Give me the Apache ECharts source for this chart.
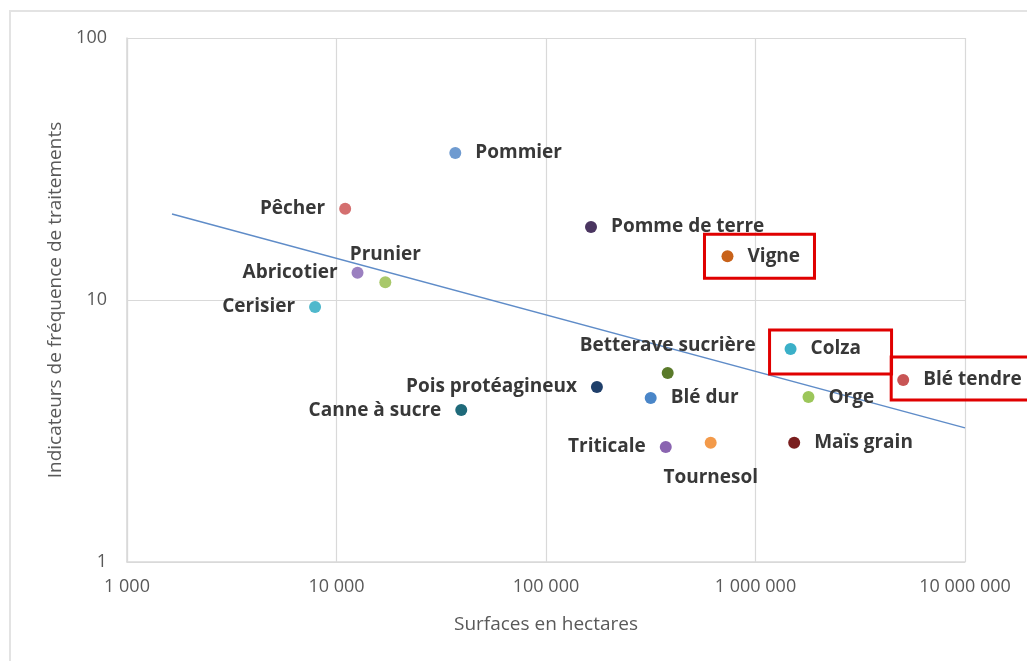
<!DOCTYPE html>
<html>
<head>
<meta charset="utf-8">
<script src="https://cdn.jsdelivr.net/npm/echarts@6/dist/echarts.min.js"></script>
<style>
  html, body { margin: 0; padding: 0; background: #ffffff; }
  #chart { width: 1027px; height: 661px; }
</style>
</head>
<body>
<div id="chart"></div>
<script>
// Cultures : surface cultivée (ha) et indicateur de fréquence de traitements (IFT)
const crops = [
  'Pommier', 'Pêcher', 'Abricotier', 'Prunier', 'Cerisier',
  'Pomme de terre', 'Vigne', 'Colza', 'Blé tendre', 'Betterave sucrière',
  'Pois protéagineux', 'Blé dur', 'Orge', 'Canne à sucre', 'Triticale',
  'Tournesol', 'Maïs grain'
];
const surfaces = [
  36900, 11000, 12600, 17100, 7900,
  164000, 735000, 1470000, 5070000, 381000,
  175000, 316000, 1790000, 39400, 373000,
  611000, 1530000
];
const ift = [
  36.4, 22.3, 12.7, 11.7, 9.4,
  19.0, 14.7, 6.5, 4.95, 5.27,
  4.66, 4.23, 4.26, 3.80, 2.75,
  2.85, 2.85
];
const colors = [
  '#6f9bd0', '#d46f6f', '#9b80c0', '#a8c86a', '#4fb8cc',
  '#4a3560', '#c8621a', '#3bb0c8', '#c85555', '#5a7a2a',
  '#1f3f6a', '#4a86c8', '#9cc65a', '#1f6a7a', '#8a64b0',
  '#f39a4a', '#7a1e1e'
];

// Courbe de tendance (puissance) : extrémités
const trendX = [1640, 10000000];
const trendY = [21.3, 3.25];

// Graduations des axes
const xTicks = [1000, 10000, 100000, 1000000, 10000000];
const yTicks = [1, 10, 100];

// Cultures encadrées en rouge
const highlighted = ['Vigne', 'Colza', 'Blé tendre'];

// Placement des étiquettes par culture
const labelSide = {
  'Pommier': 'right', 'Pêcher': 'left', 'Abricotier': 'left', 'Prunier': 'top',
  'Cerisier': 'left', 'Pomme de terre': 'right', 'Vigne': 'right', 'Colza': 'right',
  'Blé tendre': 'right', 'Betterave sucrière': 'top', 'Pois protéagineux': 'left',
  'Blé dur': 'right', 'Orge': 'right', 'Canne à sucre': 'left', 'Triticale': 'left',
  'Tournesol': 'bottom', 'Maïs grain': 'right'
};
const labelGap = { top: 12, bottom: 19, left: 14, right: 14 };

const fmt = v => String(Math.round(v)).replace(/\B(?=(\d{3})+(?!\d))/g, ' ');

const chart = echarts.init(document.getElementById('chart'), null, { renderer: 'canvas' });

const points = crops.map((name, i) => {
  const side = labelSide[name];
  const vertical = side === 'top' || side === 'bottom';
  return {
    name: name,
    value: [surfaces[i], ift[i]],
    itemStyle: { color: colors[i], opacity: 1 },
    label: {
      show: true,
      position: side,
      distance: labelGap[side],
      offset: vertical ? [0, 0] : [0, 2],
      formatter: '{b}'
    }
  };
});

const axisLabelStyle = { color: '#595959', fontFamily: 'Open Sans', fontSize: 18 };
const axisNameStyle = { color: '#595959', fontFamily: 'Open Sans', fontSize: 19 };

chart.setOption({
  animation: false,
  backgroundColor: '#ffffff',
  grid: { left: 127, right: 62, top: 38, bottom: 99, containLabel: false },
  xAxis: {
    type: 'log', logBase: 10, min: xTicks[0], max: xTicks[xTicks.length - 1],
    name: 'Surfaces en hectares', nameLocation: 'middle', nameGap: 53,
    nameTextStyle: axisNameStyle,
    axisLine: { show: true, lineStyle: { color: '#d9d9d9', width: 1.5 } },
    axisTick: { show: false },
    splitLine: { show: true, lineStyle: { color: '#d9d9d9', width: 1.2 } },
    minorTick: { show: false }, minorSplitLine: { show: false },
    axisLabel: Object.assign({ margin: 16, formatter: v => fmt(v) }, axisLabelStyle)
  },
  yAxis: {
    type: 'log', logBase: 10, min: yTicks[0], max: yTicks[yTicks.length - 1],
    name: 'Indicateurs de fréquence de traitements', nameLocation: 'middle', nameGap: 60,
    nameTextStyle: axisNameStyle,
    axisLine: { show: true, lineStyle: { color: '#d9d9d9', width: 1.5 } },
    axisTick: { show: false },
    splitLine: { show: true, lineStyle: { color: '#d9d9d9', width: 1.2 } },
    axisLabel: Object.assign({ margin: 20, formatter: v => fmt(v) }, axisLabelStyle)
  },
  series: [
    {
      type: 'line',
      data: trendX.map((x, i) => [x, trendY[i]]),
      symbol: 'none',
      silent: true,
      lineStyle: { color: '#5f8cc8', width: 1.5 },
      z: 1
    },
    {
      type: 'scatter',
      symbol: 'circle',
      symbolSize: 12,
      data: points,
      label: {
        color: '#383838', fontFamily: 'Open Sans', fontWeight: 'bold', fontSize: 19
      },
      labelLayout: { hideOverlap: false },
      z: 3
    }
  ]
});

// Cadre extérieur et encadrés rouges autour des cultures mises en avant
const boxes = highlighted.map(name => {
  const i = crops.indexOf(name);
  const p = chart.convertToPixel({ seriesIndex: 1 }, [surfaces[i], ift[i]]);
  const spec = {
    'Vigne': [-23, -22, 110, 44],
    'Colza': [-21, -19, 122, 44],
    'Blé tendre': [-12, -23, 160, 43]
  }[name];
  return {
    type: 'rect',
    shape: { x: p[0] + spec[0], y: p[1] + spec[1], width: spec[2], height: spec[3] },
    style: { fill: 'none', stroke: '#e00000', lineWidth: 3 },
    z: 10
  };
});

chart.setOption({
  graphic: [
    {
      type: 'rect',
      shape: { x: 10, y: 11, width: 1100, height: 700 },
      style: { fill: 'none', stroke: '#e3e3e3', lineWidth: 2 },
      silent: true, z: 0
    }
  ].concat(boxes)
});
</script>
</body>
</html>
